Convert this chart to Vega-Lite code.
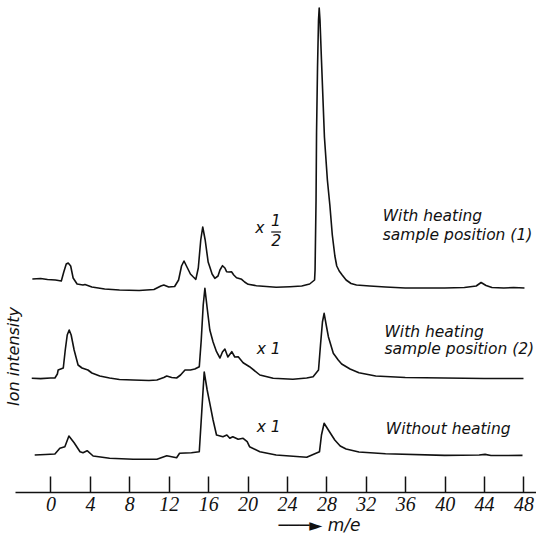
{
 "$schema": "https://vega.github.io/schema/vega-lite/v6.json",
 "width": 521, "height": 492,
 "autosize": {"type": "none"},
 "padding": {"left": 15, "top": 0, "right": 0, "bottom": 42},
 "background": "white",
 "config": {"view": {"stroke": null}, "font": "DejaVu Sans"},
 "datasets": {
  "spectra": [
   {"trace":"A","m":-1.84,"v":213},{"trace":"A","m":-1.0,"v":213.5},{"trace":"A","m":-0.3,"v":212.5},{"trace":"A","m":0.5,"v":212},{"trace":"A","m":1.1,"v":211},{"trace":"A","m":1.35,"v":220},{"trace":"A","m":1.6,"v":228},{"trace":"A","m":1.8,"v":229},{"trace":"A","m":2.05,"v":226},{"trace":"A","m":2.3,"v":214},{"trace":"A","m":2.7,"v":208},{"trace":"A","m":3.3,"v":207},{"trace":"A","m":3.5,"v":207.5},{"trace":"A","m":4.2,"v":205},{"trace":"A","m":5.5,"v":203},{"trace":"A","m":7,"v":202},{"trace":"A","m":9,"v":201.5},{"trace":"A","m":10.5,"v":202.5},{"trace":"A","m":11.2,"v":206},{"trace":"A","m":11.5,"v":207},{"trace":"A","m":12.0,"v":205},{"trace":"A","m":12.6,"v":205.5},{"trace":"A","m":13.0,"v":212},{"trace":"A","m":13.3,"v":226},{"trace":"A","m":13.55,"v":231},{"trace":"A","m":13.9,"v":224},{"trace":"A","m":14.2,"v":218},{"trace":"A","m":14.5,"v":215},{"trace":"A","m":14.75,"v":212.7},{"trace":"A","m":15.0,"v":224},{"trace":"A","m":15.25,"v":252},{"trace":"A","m":15.45,"v":265},{"trace":"A","m":15.7,"v":252},{"trace":"A","m":16.0,"v":230},{"trace":"A","m":16.17,"v":225},{"trace":"A","m":16.4,"v":218},{"trace":"A","m":16.68,"v":213.7},{"trace":"A","m":17.0,"v":216},{"trace":"A","m":17.2,"v":222},{"trace":"A","m":17.46,"v":226.3},{"trace":"A","m":17.7,"v":224},{"trace":"A","m":17.87,"v":220.3},{"trace":"A","m":18.1,"v":220},{"trace":"A","m":18.37,"v":220.3},{"trace":"A","m":18.6,"v":217},{"trace":"A","m":18.88,"v":214.3},{"trace":"A","m":19.4,"v":212.7},{"trace":"A","m":19.7,"v":210},{"trace":"A","m":20.06,"v":207.7},{"trace":"A","m":20.9,"v":206.3},{"trace":"A","m":22.9,"v":204.7},{"trace":"A","m":24.3,"v":205.3},{"trace":"A","m":25.5,"v":206},{"trace":"A","m":26.3,"v":208},{"trace":"A","m":26.8,"v":212},{"trace":"A","m":26.85,"v":222},{"trace":"A","m":26.95,"v":292},{"trace":"A","m":27.0,"v":359},{"trace":"A","m":27.1,"v":425},{"trace":"A","m":27.2,"v":472},{"trace":"A","m":27.27,"v":484},{"trace":"A","m":27.35,"v":472},{"trace":"A","m":27.5,"v":432},{"trace":"A","m":27.8,"v":355},{"trace":"A","m":28.1,"v":312},{"trace":"A","m":28.35,"v":287},{"trace":"A","m":28.6,"v":257},{"trace":"A","m":28.86,"v":236},{"trace":"A","m":29.05,"v":226},{"trace":"A","m":29.3,"v":221},{"trace":"A","m":29.6,"v":217},{"trace":"A","m":30.0,"v":212},{"trace":"A","m":30.5,"v":208.5},{"trace":"A","m":31.05,"v":207},{"trace":"A","m":32.4,"v":206},{"trace":"A","m":34,"v":205},{"trace":"A","m":36,"v":204},{"trace":"A","m":38,"v":204},{"trace":"A","m":40,"v":204},{"trace":"A","m":42,"v":204.5},{"trace":"A","m":43.2,"v":206},{"trace":"A","m":43.7,"v":209.5},{"trace":"A","m":44.2,"v":206.5},{"trace":"A","m":44.8,"v":204.5},{"trace":"A","m":46,"v":204},{"trace":"A","m":47,"v":204.5},{"trace":"A","m":48.1,"v":204},
   {"trace":"B","m":-1.9,"v":113.7},{"trace":"B","m":-1.0,"v":113.4},{"trace":"B","m":0.0,"v":114},{"trace":"B","m":0.45,"v":114},{"trace":"B","m":0.7,"v":118},{"trace":"B","m":0.78,"v":122},{"trace":"B","m":1.3,"v":124},{"trace":"B","m":1.5,"v":142},{"trace":"B","m":1.7,"v":157},{"trace":"B","m":1.9,"v":162},{"trace":"B","m":2.1,"v":157},{"trace":"B","m":2.4,"v":142},{"trace":"B","m":2.8,"v":127},{"trace":"B","m":3.2,"v":124},{"trace":"B","m":3.5,"v":123},{"trace":"B","m":3.8,"v":122},{"trace":"B","m":4.2,"v":119},{"trace":"B","m":5.0,"v":116},{"trace":"B","m":6.0,"v":114},{"trace":"B","m":7.0,"v":112.5},{"trace":"B","m":8.4,"v":112},{"trace":"B","m":10.0,"v":111.5},{"trace":"B","m":10.8,"v":112},{"trace":"B","m":11.5,"v":114.5},{"trace":"B","m":11.8,"v":116},{"trace":"B","m":12.3,"v":114.5},{"trace":"B","m":12.8,"v":114},{"trace":"B","m":13.2,"v":117},{"trace":"B","m":13.65,"v":122},{"trace":"B","m":14.2,"v":122},{"trace":"B","m":14.65,"v":123},{"trace":"B","m":15.1,"v":125.3},{"trace":"B","m":15.3,"v":152},{"trace":"B","m":15.5,"v":187},{"trace":"B","m":15.67,"v":203.7},{"trace":"B","m":15.9,"v":184},{"trace":"B","m":16.17,"v":162},{"trace":"B","m":16.5,"v":150},{"trace":"B","m":16.85,"v":140.3},{"trace":"B","m":17.2,"v":134},{"trace":"B","m":17.45,"v":140},{"trace":"B","m":17.7,"v":143},{"trace":"B","m":18.0,"v":135},{"trace":"B","m":18.4,"v":140.3},{"trace":"B","m":18.7,"v":135},{"trace":"B","m":19.05,"v":135.3},{"trace":"B","m":19.55,"v":129.3},{"trace":"B","m":20.2,"v":125.3},{"trace":"B","m":21.25,"v":117},{"trace":"B","m":22.6,"v":113.7},{"trace":"B","m":24.6,"v":112.7},{"trace":"B","m":26.0,"v":114},{"trace":"B","m":26.65,"v":115.3},{"trace":"B","m":27.2,"v":122},{"trace":"B","m":27.4,"v":147},{"trace":"B","m":27.6,"v":170},{"trace":"B","m":27.77,"v":178.7},{"trace":"B","m":28.0,"v":166},{"trace":"B","m":28.2,"v":155.3},{"trace":"B","m":28.7,"v":138.7},{"trace":"B","m":29.2,"v":132},{"trace":"B","m":29.55,"v":128},{"trace":"B","m":30.4,"v":123},{"trace":"B","m":31.3,"v":119.3},{"trace":"B","m":33,"v":116},{"trace":"B","m":36,"v":114.5},{"trace":"B","m":40,"v":114},{"trace":"B","m":44,"v":113.5},{"trace":"B","m":48,"v":113.5},
   {"trace":"C","m":-1.6,"v":37},{"trace":"C","m":-0.5,"v":37.5},{"trace":"C","m":0.45,"v":38},{"trace":"C","m":0.95,"v":43.7},{"trace":"C","m":1.46,"v":45.3},{"trace":"C","m":1.87,"v":56},{"trace":"C","m":2.4,"v":49.3},{"trace":"C","m":3.0,"v":40.3},{"trace":"C","m":3.3,"v":39.3},{"trace":"C","m":3.72,"v":41.3},{"trace":"C","m":4.33,"v":36},{"trace":"C","m":6.0,"v":33.7},{"trace":"C","m":8.4,"v":32.7},{"trace":"C","m":10.8,"v":32.7},{"trace":"C","m":11.8,"v":36.3},{"trace":"C","m":12.8,"v":34.3},{"trace":"C","m":13.1,"v":38.7},{"trace":"C","m":14.3,"v":39.3},{"trace":"C","m":15.1,"v":40.3},{"trace":"C","m":15.35,"v":80},{"trace":"C","m":15.6,"v":120},{"trace":"C","m":15.9,"v":102},{"trace":"C","m":16.17,"v":88.7},{"trace":"C","m":16.5,"v":72},{"trace":"C","m":16.85,"v":57},{"trace":"C","m":17.5,"v":55.3},{"trace":"C","m":17.9,"v":57},{"trace":"C","m":18.2,"v":53.7},{"trace":"C","m":18.5,"v":55.3},{"trace":"C","m":19.05,"v":52.7},{"trace":"C","m":19.55,"v":53.7},{"trace":"C","m":19.96,"v":50.3},{"trace":"C","m":20.2,"v":45.3},{"trace":"C","m":21.25,"v":40.3},{"trace":"C","m":22.9,"v":37},{"trace":"C","m":26.0,"v":34.7},{"trace":"C","m":27.3,"v":40.3},{"trace":"C","m":27.5,"v":57},{"trace":"C","m":27.77,"v":68.7},{"trace":"C","m":28.2,"v":62},{"trace":"C","m":28.85,"v":52},{"trace":"C","m":29.4,"v":46},{"trace":"C","m":30.0,"v":43},{"trace":"C","m":31.3,"v":40},{"trace":"C","m":34,"v":38.3},{"trace":"C","m":40,"v":36.6},{"trace":"C","m":43.5,"v":37},{"trace":"C","m":44.1,"v":37.6},{"trace":"C","m":44.7,"v":36.5},{"trace":"C","m":47.9,"v":36.6}
  ],
  "captions": [
   {"m":33.72,"v":276,"label":"With heating"},
   {"m":33.72,"v":257,"label":"sample position (1)"},
   {"m":33.9,"v":160,"label":"With heating"},
   {"m":33.9,"v":143,"label":"sample position (2)"},
   {"m":34.03,"v":63,"label":"Without heating"}
  ],
  "factors": [
   {"m":21.25,"v":264,"label":"x"},
   {"m":22.87,"v":271,"label":"1"},
   {"m":22.9,"v":251,"label":"2"},
   {"m":22.15,"v":143,"label":"x 1"},
   {"m":22.15,"v":65,"label":"x 1"}
  ],
  "fraction": [
   {"m":22.4,"m2":23.4,"v":260}
  ]
 },
 "layer": [
  {
   "data": {"name": "spectra"},
   "mark": {"type": "line", "color": "#111", "strokeWidth": 1.6, "strokeJoin": "round"},
   "encoding": {
    "x": {"field": "m", "type": "quantitative",
     "scale": {"domain": [-3.6, 49.27], "nice": false, "zero": false},
     "axis": {
      "values": [0,2,4,6,8,10,12,14,16,18,20,22,24,26,28,30,32,34,36,38,40,42,44,46,48],
      "grid": false,
      "domainColor": "#111", "domainWidth": 1.5,
      "tickColor": "#111", "tickWidth": 1.5,
      "tickSize": {"condition": {"test": "datum.value % 4 === 0", "value": -16}, "value": -7},
      "labelExpr": "datum.value % 4 === 0 ? datum.label : ''",
      "labelFont": "Liberation Sans Narrow", "labelFontStyle": "italic", "labelFontSize": 20,
      "labelColor": "#111", "labelPadding": 18, "labelFlush": false, "labelOverlap": false,
      "title": "───► m/e",
      "titleX": 304, "titleY": 33, "titleAlign": "center", "titleBaseline": "middle",
      "titleFontStyle": "italic", "titleFontWeight": "normal", "titleFontSize": 17, "titleColor": "#111"
     }
    },
    "y": {"field": "v", "type": "quantitative",
     "scale": {"domain": [0, 492], "nice": false},
     "axis": {
      "title": "Ion intensity", "domain": false, "ticks": false, "labels": false, "grid": false,
      "titleFontStyle": "italic", "titleFontWeight": "normal", "titleFontSize": 16, "titleColor": "#111",
      "titleAngle": -90, "titleX": -2, "titleY": 356, "titleAlign": "center", "titleBaseline": "middle"
     }
    },
    "detail": {"field": "trace", "type": "nominal"}
   }
  },
  {
   "data": {"name": "captions"},
   "mark": {"type": "text", "align": "left", "baseline": "middle", "fontStyle": "italic", "fontSize": 15.5, "color": "#111"},
   "encoding": {
    "x": {"field": "m", "type": "quantitative"},
    "y": {"field": "v", "type": "quantitative"},
    "text": {"field": "label"}
   }
  },
  {
   "data": {"name": "factors"},
   "mark": {"type": "text", "align": "center", "baseline": "middle", "fontStyle": "italic", "fontSize": 15.5, "color": "#111"},
   "encoding": {
    "x": {"field": "m", "type": "quantitative"},
    "y": {"field": "v", "type": "quantitative"},
    "text": {"field": "label"}
   }
  },
  {
   "data": {"name": "fraction"},
   "mark": {"type": "rule", "color": "#111", "strokeWidth": 1.2},
   "encoding": {
    "x": {"field": "m", "type": "quantitative"},
    "x2": {"field": "m2"},
    "y": {"field": "v", "type": "quantitative"}
   }
  }
 ]
}
